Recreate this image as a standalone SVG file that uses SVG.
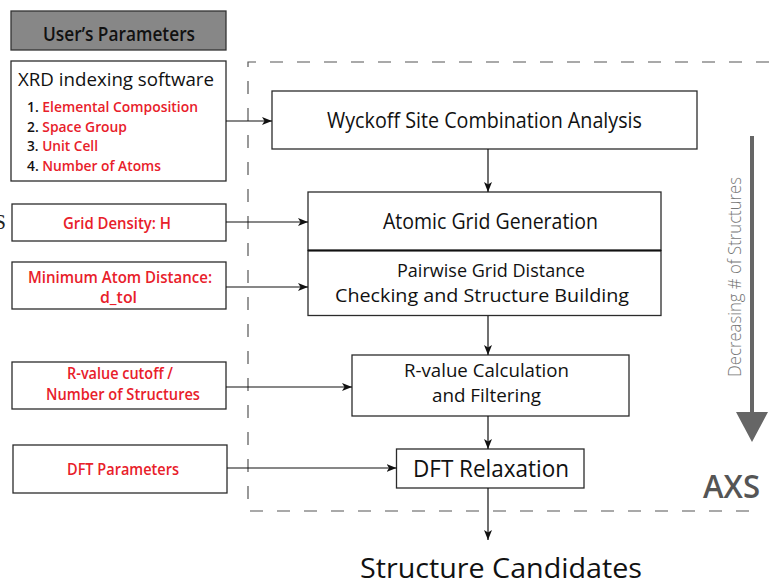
<svg xmlns="http://www.w3.org/2000/svg" width="769" height="582" viewBox="0 0 769 582">
  <defs>
    <marker id="arrow" viewBox="0 0 10 8" refX="10" refY="4" markerWidth="10" markerHeight="8" markerUnits="userSpaceOnUse" orient="auto">
      <path d="M0,0 L10,4 L0,8 L2.5,4 Z" fill="#111"/>
    </marker>
    <style>
      text { font-family: "Open Sans", "Noto Sans", "Liberation Sans", sans-serif; }
      .box { fill: #fff; stroke: #2b2b2b; stroke-width: 1.3; }
      .head { fill: #878787; stroke: #333; stroke-width: 1.3; }
      .main { fill: #111; text-anchor: middle; }
      .red { fill: #e8202a; font-weight: 600; }
      .num { fill: #111; font-weight: 600; }
      .param { fill: #e8202a; font-weight: 600; font-size: 15.5px; text-anchor: middle; }
      .conn { stroke: #111; stroke-width: 1.2; fill: none; marker-end: url(#arrow); }
    </style>
  </defs>

  <rect width="769" height="582" fill="#fff"/>

  <!-- partially visible letter at the left edge -->
  <text x="6" y="229" text-anchor="end" style="font-family:'Liberation Serif', serif" font-size="21" fill="#222">S</text>

  <!-- AXS region -->
  <g id="axs-region">
    <path d="M769,62 L248,62 L248,511 L760,511" fill="none" stroke="#555" stroke-width="1.2" stroke-dasharray="13,14"/>
    <text x="760" y="498" text-anchor="end" font-size="33" font-weight="600" fill="#555" textLength="57" lengthAdjust="spacingAndGlyphs">AXS</text>
  </g>

  <!-- trend indicator -->
  <g id="decreasing-arrow">
    <line x1="752" y1="136" x2="752" y2="414" stroke="#666" stroke-width="4"/>
    <path d="M736,412 L768,412 L752,442 Z" fill="#666"/>
    <text transform="translate(741,277) rotate(-90)" text-anchor="middle" font-size="17.5" font-weight="300" fill="#777" textLength="200" lengthAdjust="spacingAndGlyphs">Decreasing # of Structures</text>
  </g>

  <!-- user parameter inputs -->
  <g id="users-parameters">
    <rect class="head" x="11" y="11" width="215" height="39"/>
    <text x="119" y="41" text-anchor="middle" font-size="19" font-weight="600" fill="#111" textLength="152" lengthAdjust="spacingAndGlyphs">User’s Parameters</text>
  </g>

  <g id="xrd-indexing">
    <rect class="box" x="11" y="61" width="215" height="120"/>
    <text x="18" y="86" font-size="19" fill="#111" textLength="196" lengthAdjust="spacingAndGlyphs">XRD indexing software</text>
    <text x="27" y="112" font-size="15" textLength="171" lengthAdjust="spacingAndGlyphs"><tspan class="num">1. </tspan><tspan class="red">Elemental Composition</tspan></text>
    <text x="27" y="131.5" font-size="15" textLength="100" lengthAdjust="spacingAndGlyphs"><tspan class="num">2. </tspan><tspan class="red">Space Group</tspan></text>
    <text x="27" y="151" font-size="15" textLength="71" lengthAdjust="spacingAndGlyphs"><tspan class="num">3. </tspan><tspan class="red">Unit Cell</tspan></text>
    <text x="27" y="170.5" font-size="15" textLength="134" lengthAdjust="spacingAndGlyphs"><tspan class="num">4. </tspan><tspan class="red">Number of Atoms</tspan></text>
  </g>

  <g id="grid-density">
    <rect class="box" x="12" y="204" width="214" height="37"/>
    <text class="param" x="117" y="229" textLength="108" lengthAdjust="spacingAndGlyphs">Grid Density: H</text>
  </g>

  <g id="min-atom-distance">
    <rect class="box" x="12" y="262" width="214" height="47"/>
    <text class="param" x="120" y="283" textLength="184" lengthAdjust="spacingAndGlyphs">Minimum Atom Distance:</text>
    <text class="param" x="118.5" y="303" textLength="37" lengthAdjust="spacingAndGlyphs">d_tol</text>
  </g>

  <g id="r-value-cutoff">
    <rect class="box" x="12" y="362" width="214" height="47"/>
    <text class="param" x="120" y="379" textLength="106" lengthAdjust="spacingAndGlyphs">R-value cutoff /</text>
    <text class="param" x="123" y="400" textLength="154" lengthAdjust="spacingAndGlyphs">Number of Structures</text>
  </g>

  <g id="dft-parameters">
    <rect class="box" x="13" y="445" width="214" height="48"/>
    <text class="param" x="123" y="475" textLength="112" lengthAdjust="spacingAndGlyphs">DFT Parameters</text>
  </g>

  <!-- workflow steps -->
  <g id="wyckoff">
    <rect class="box" x="272" y="91" width="425" height="58"/>
    <text class="main" x="484.5" y="128" font-size="21" textLength="315" lengthAdjust="spacingAndGlyphs">Wyckoff Site Combination Analysis</text>
  </g>

  <g id="atomic-grid">
    <rect class="box" x="308" y="192" width="353" height="58.5"/>
    <text class="main" x="490.5" y="229" font-size="21" textLength="215" lengthAdjust="spacingAndGlyphs">Atomic Grid Generation</text>
  </g>

  <g id="pairwise">
    <rect class="box" x="308" y="250.5" width="353" height="65"/>
    <line x1="308" y1="250.5" x2="661" y2="250.5" stroke="#111" stroke-width="2.2"/>
    <text class="main" x="491" y="277" font-size="18.5" textLength="188" lengthAdjust="spacingAndGlyphs">Pairwise Grid Distance</text>
    <text class="main" x="482" y="302" font-size="18.5" textLength="294" lengthAdjust="spacingAndGlyphs">Checking and Structure Building</text>
  </g>

  <g id="r-value-calc">
    <rect class="box" x="352" y="355" width="277" height="61"/>
    <text class="main" x="486.5" y="377" font-size="18.5" textLength="165" lengthAdjust="spacingAndGlyphs">R-value Calculation</text>
    <text class="main" x="486.5" y="402" font-size="18.5" textLength="109" lengthAdjust="spacingAndGlyphs">and Filtering</text>
  </g>

  <g id="dft-relaxation">
    <rect class="box" x="396.5" y="449" width="187.5" height="39"/>
    <text class="main" x="491" y="477" font-size="24" textLength="156" lengthAdjust="spacingAndGlyphs">DFT Relaxation</text>
  </g>

  <g id="structure-candidates">
    <text class="main" x="501" y="578" font-size="28" textLength="282" lengthAdjust="spacingAndGlyphs">Structure Candidates</text>
  </g>

  <!-- connectors -->
  <g id="connectors">
    <line class="conn" x1="226" y1="121" x2="272" y2="121"/>
    <line class="conn" x1="488" y1="149" x2="488" y2="192"/>
    <line class="conn" x1="226" y1="222" x2="308" y2="222"/>
    <line class="conn" x1="226" y1="287" x2="308" y2="287"/>
    <line class="conn" x1="488" y1="316" x2="488" y2="355"/>
    <line class="conn" x1="226" y1="387" x2="352" y2="387"/>
    <line class="conn" x1="488" y1="416" x2="488" y2="449"/>
    <line class="conn" x1="227" y1="468" x2="396.5" y2="468"/>
    <line class="conn" x1="488" y1="488" x2="488" y2="540"/>
  </g>
</svg>
